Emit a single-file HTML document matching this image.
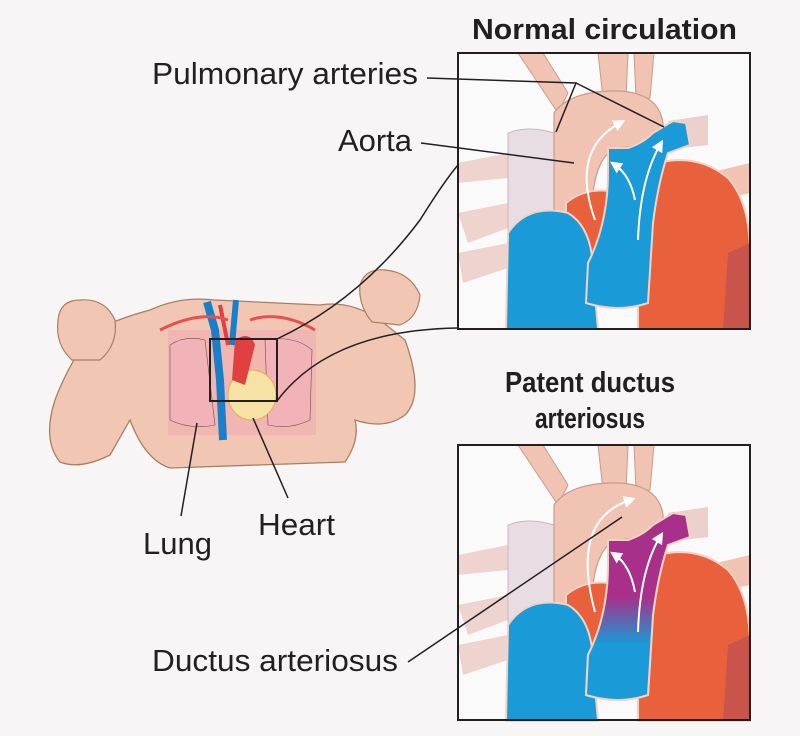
<!DOCTYPE html>
<html><head><meta charset="utf-8"><style>
html,body{margin:0;padding:0;background:#f7f5f6;}
svg{display:block;}
text{font-family:"Liberation Sans Narrow","Liberation Sans",sans-serif;fill:#231f20;}
</style></head><body>
<svg width="800" height="736" viewBox="0 0 800 736" xmlns="http://www.w3.org/2000/svg">
<defs>
<marker id="ah" markerWidth="6" markerHeight="6" refX="3" refY="3" orient="auto"><path d="M0 0 L6 3 L0 6Z" fill="#fff"/></marker>
<linearGradient id="mg" x1="0" y1="0" x2="0" y2="1">
<stop offset="0.45" stop-color="#a8308a"/><stop offset="0.7" stop-color="#1a9ad6"/>
</linearGradient>
<g id="heart">
<rect x="0" y="0" width="292" height="276" fill="#fbfafa"/>
<path d="M0 110 L50 100 L50 125 L0 130Z M0 160 L50 150 L50 175 L10 190Z M0 200 L50 190 L50 215 L5 230Z" fill="#efd3cf"/>
<path d="M50 80 Q70 72 96 80 L96 276 L50 276Z" fill="#e8dde3" stroke="#c9b6c0" stroke-width="1"/>
<path d="M60 0 L85 0 L110 40 L100 60Z" fill="#f1c3b3" stroke="#c89c8c"/>
<path d="M140 0 L170 0 L168 45 L145 45Z" fill="#f1c3b3" stroke="#c89c8c"/>
<path d="M176 0 L196 0 L192 45 L178 45Z" fill="#f1c3b3" stroke="#c89c8c"/>
<path d="M96 60 Q110 40 150 38 Q200 36 205 70 L205 90 L160 95 Q140 100 135 140 L130 170 L96 170Z" fill="#f1c3b3" stroke="#c89c8c" stroke-width="1.2"/>
<path d="M210 68 L250 62 L250 92 L215 96Z" fill="#ecd0cc"/>
<path d="M250 120 L292 110 L292 140 L250 150Z" fill="#f1c3b3"/>
<path d="M200 110 Q240 100 270 125 Q292 150 292 200 L292 276 L180 276 L180 200Z" fill="#e8603c" stroke="#f3d2c3" stroke-width="2"/>
<path d="M270 200 L292 190 L292 276 L265 276Z" fill="#c9544b"/>
<path d="M108 150 Q130 132 160 140 L170 200 L140 220 L108 200Z" fill="#e8603c" stroke="#f3d2c3" stroke-width="2"/>
<path d="M50 180 Q70 150 110 160 Q135 175 135 220 L140 276 L48 276Z" fill="#1a9ad6" stroke="#f3d2c3" stroke-width="2"/>
<path d="M128 250 L130 210 Q150 170 150 120 L150 95 L170 95 Q185 90 195 80 L215 68 L228 70 L232 92 L210 100 Q200 130 195 170 L190 250 Q160 260 128 250Z" fill="#1a9ad6" stroke="#f3d2c3" stroke-width="2"/>
</g>
</defs>

<g>
<path d="M95 330 Q70 360 55 400 Q42 440 60 462 Q80 470 110 455 L130 420 Q145 460 170 468 L345 462 Q360 440 355 420 Q385 430 405 415 Q425 395 405 340 L380 320 Q350 300 320 305 L215 300 Q180 296 150 310 Q120 318 95 330Z" fill="#f1c6b3" stroke="#a88060" stroke-width="1.3"/>
<path d="M58 320 Q60 300 80 300 Q105 298 115 320 Q118 345 100 360 L72 360 Q55 345 58 320Z" fill="#f1c6b3" stroke="#a88060" stroke-width="1.2"/>
<path d="M360 285 Q365 268 385 270 Q410 272 420 295 Q418 318 400 325 L372 322 Q358 305 360 285Z" fill="#f1c6b3" stroke="#a88060" stroke-width="1.2"/>
<rect x="168" y="330" width="148" height="105" fill="#f0aab0" opacity="0.55"/>
<path d="M170 345 Q185 335 205 340 L215 425 Q190 430 170 420Z M265 340 Q295 335 312 350 L310 420 Q290 430 268 425Z" fill="#f2b3b8" stroke="#6a5050" stroke-width="0.6"/>
<path d="M207 302 L215 330 L220 380 L223 440" stroke="#1a7fc9" stroke-width="8" fill="none"/>
<path d="M236 300 L232 345" stroke="#1a7fc9" stroke-width="6" fill="none"/>
<path d="M220 305 L228 345" stroke="#e04040" stroke-width="4" fill="none"/>
<path d="M160 330 Q200 310 228 320 M250 320 Q280 310 315 330" stroke="#e85050" stroke-width="3" fill="none"/>
<ellipse cx="252" cy="395" rx="24" ry="25" fill="#f5e2a4" stroke="#e0b050"/>
<path d="M235 340 Q250 330 255 345 L245 385 L232 380Z" fill="#e04040"/>
<rect x="210" y="339" width="67" height="62" fill="none" stroke="#231f20" stroke-width="2"/>
</g>

<use href="#heart" x="458" y="53"/>
<rect x="458" y="53" width="292" height="276" fill="none" stroke="#231f20" stroke-width="2"/>
<g transform="translate(458,445)">
<use href="#heart"/>
<path d="M128 250 L130 210 Q150 170 150 120 L150 95 L170 95 Q185 90 195 80 L215 68 L228 70 L232 92 L210 100 Q200 130 195 170 L190 250 Q160 260 128 250Z" fill="url(#mg)" stroke="#f3d2c3" stroke-width="2"/>
</g>
<rect x="458" y="445" width="292" height="275" fill="none" stroke="#231f20" stroke-width="2"/>

<g fill="none" stroke="#fff" stroke-width="2" marker-end="url(#ah)">
<path d="M595 220 Q570 150 620 123"/><path d="M638 240 Q640 180 660 145"/><path d="M635 200 Q630 175 615 165"/>
<path d="M595 612 Q570 520 630 500"/><path d="M638 632 Q640 570 660 537"/><path d="M635 592 Q630 565 615 555"/>
</g>

<g fill="none" stroke="#231f20" stroke-width="1.5">
<path d="M427 78 L576 83 L556 132 M576 83 L664 127"/>
<path d="M421 143 L574 163"/>
<path d="M277 339 Q360 300 420 220 Q445 180 458 165"/>
<path d="M277 401 Q330 330 458 328"/>
<path d="M197 423 L181 516"/>
<path d="M253 418 L288 498"/>
<path d="M408 662 L622 517"/>
</g>

<text x="472" y="39" font-size="29" font-weight="bold" textLength="265" lengthAdjust="spacingAndGlyphs">Normal circulation</text>
<text x="152" y="84" font-size="31" textLength="266" lengthAdjust="spacingAndGlyphs">Pulmonary arteries</text>
<text x="338" y="151" font-size="31" textLength="74" lengthAdjust="spacingAndGlyphs">Aorta</text>
<text x="505" y="392" font-size="29" font-weight="bold" textLength="170" lengthAdjust="spacingAndGlyphs">Patent ductus</text>
<text x="535" y="428" font-size="29" font-weight="bold" textLength="110" lengthAdjust="spacingAndGlyphs">arteriosus</text>
<text x="258" y="535" font-size="31" textLength="77" lengthAdjust="spacingAndGlyphs">Heart</text>
<text x="143" y="554" font-size="31" textLength="69" lengthAdjust="spacingAndGlyphs">Lung</text>
<text x="152" y="671" font-size="31" textLength="246" lengthAdjust="spacingAndGlyphs">Ductus arteriosus</text>
</svg>
</body></html>
